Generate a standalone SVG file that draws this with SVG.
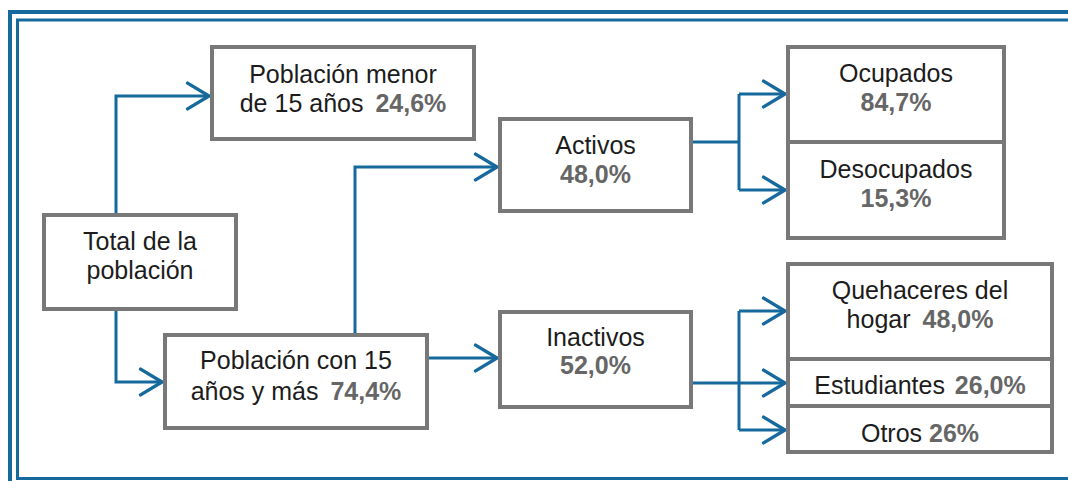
<svg xmlns="http://www.w3.org/2000/svg" width="1068" height="481" viewBox="0 0 1068 481">
<defs>
<style>
.box{fill:#ffffff;stroke:#787878;stroke-width:4}
.t{font-family:"Liberation Sans",Arial,sans-serif;font-size:25px;fill:#1c1c1c;text-anchor:middle}
.p{font-weight:bold;fill:#666666}
.c{fill:none;stroke:#16699d;stroke-width:3;stroke-linejoin:miter}
.frame{fill:none;stroke:#16699d}
</style>
<marker id="ah" markerUnits="userSpaceOnUse" markerWidth="30" markerHeight="30" viewBox="-22 -14 26 28" refX="0" refY="0" orient="auto">
<path d="M-20,-12 L0,0 L-20,12" fill="none" stroke="#16699d" stroke-width="3.2" stroke-linecap="round" stroke-linejoin="miter"/>
</marker>
</defs>
<rect width="1068" height="481" fill="#ffffff"/>
<g id="frame">
<path class="frame" stroke-width="4" d="M10,481 V12 H1068"/>
<path class="frame" stroke-width="3" d="M1068,478.5 H17.5 V20 H1068"/>
</g>
<g id="connectors">
<path class="c" d="M116,213 V96 H209" marker-end="url(#ah)"/>
<path class="c" d="M116,311 V382 H162" marker-end="url(#ah)"/>
<path class="c" d="M355,333 V167 H497" marker-end="url(#ah)"/>
<path class="c" d="M429,358 H497" marker-end="url(#ah)"/>
<path class="c" d="M693,142 H739"/>
<path class="c" d="M739,94 V190"/>
<path class="c" d="M739,94 H785" marker-end="url(#ah)"/>
<path class="c" d="M739,190 H785" marker-end="url(#ah)"/>
<path class="c" d="M693,383 H785" marker-end="url(#ah)"/>
<path class="c" d="M739,311 V430"/>
<path class="c" d="M739,311 H785" marker-end="url(#ah)"/>
<path class="c" d="M739,430 H785" marker-end="url(#ah)"/>
</g>
<g id="total">
<rect class="box" x="44" y="215" width="192" height="94"/>
<text class="t" x="140" y="250">Total de la</text>
<text class="t" x="140" y="279">población</text>
</g>
<g id="menor15">
<rect class="box" x="212" y="47" width="262" height="92"/>
<text class="t" x="343" y="83">Población menor</text>
<text class="t" x="343" y="112">de 15 años <tspan class="p" dx="5">24,6%</tspan></text>
</g>
<g id="con15">
<rect class="box" x="165" y="335" width="262" height="93"/>
<text class="t" x="296" y="369">Población con 15</text>
<text class="t" x="296" y="400">años y más <tspan class="p" dx="5">74,4%</tspan></text>
</g>
<g id="activos">
<rect class="box" x="500" y="119" width="191" height="92"/>
<text class="t" x="595.5" y="154">Activos</text>
<text class="t p" x="595.5" y="183">48,0%</text>
</g>
<g id="inactivos">
<rect class="box" x="500" y="312" width="191" height="95"/>
<text class="t" x="595.5" y="346">Inactivos</text>
<text class="t p" x="595.5" y="374">52,0%</text>
</g>
<g id="ocupados">
<rect class="box" x="788" y="47" width="216" height="95"/>
<text class="t" x="896" y="82">Ocupados</text>
<text class="t p" x="896" y="111">84,7%</text>
</g>
<g id="desocupados">
<rect class="box" x="788" y="142" width="216" height="96"/>
<text class="t" x="896" y="178">Desocupados</text>
<text class="t p" x="896" y="207">15,3%</text>
</g>
<g id="quehaceres">
<rect class="box" x="788" y="264" width="264" height="95"/>
<text class="t" x="920" y="299">Quehaceres del</text>
<text class="t" x="920" y="328">hogar <tspan class="p" dx="5">48,0%</tspan></text>
</g>
<g id="estudiantes">
<rect class="box" x="788" y="359" width="264" height="47"/>
<text class="t" x="920" y="394">Estudiantes <tspan class="p" dx="3">26,0%</tspan></text>
</g>
<g id="otros">
<rect class="box" x="788" y="406" width="264" height="46"/>
<text class="t" x="920" y="442">Otros <tspan class="p">26%</tspan></text>
</g>
</svg>
